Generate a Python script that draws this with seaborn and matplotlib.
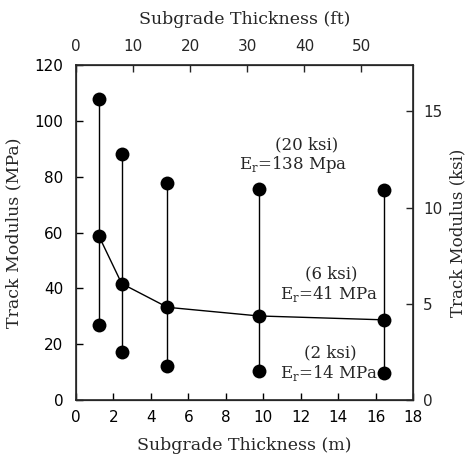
import numpy as np
import pandas as pd
import matplotlib
matplotlib.use("Agg")
import matplotlib.pyplot as plt
import seaborn as sns

# subgrade thickness (m) and track modulus (MPa) for three subgrade moduli
thickness = [1.22, 2.44, 4.88, 9.75, 16.46]
mod_138 = [108.0, 88.0, 77.7, 75.6, 75.3]
mod_41 = [58.8, 41.7, 33.2, 30.1, 28.7]
mod_14 = [26.9, 17.1, 12.3, 10.4, 9.8]

df = pd.DataFrame({
    "thickness": thickness * 3,
    "modulus": mod_138 + mod_41 + mod_14,
    "Er": ["138"] * 5 + ["41"] * 5 + ["14"] * 5,
})

sns.set_style("ticks")
plt.rcParams["font.family"] = ["DejaVu Sans"]
serif = "DejaVu Serif"

fig, ax = plt.subplots(figsize=(4.69, 4.55), dpi=100)
fig.subplots_adjust(left=0.162, right=0.881, top=0.857, bottom=0.121)

ax.vlines(thickness, mod_14, mod_138, color="black", lw=1.0, zorder=2)
sns.lineplot(x=thickness, y=mod_41, ax=ax, color="black", lw=1.0, zorder=2)
sns.scatterplot(data=df, x="thickness", y="modulus", ax=ax, color="black",
                s=100, edgecolor="black", linewidth=0, zorder=3, legend=False)

ax.set_xlim(0, 18)
ax.set_ylim(0, 120)
ax.set_xticks(np.arange(0, 19, 2))
ax.set_yticks(np.arange(0, 121, 20))
ax.tick_params(direction="in", length=5, width=1, labelsize=11, colors="black")
ax.tick_params(axis="x", pad=7)
ax.tick_params(axis="y", pad=9)
ax.set_xlabel("Subgrade Thickness (m)", family=serif, fontsize=12.5, labelpad=9)
ax.set_ylabel("Track Modulus (MPa)", family=serif, fontsize=12.5, labelpad=9)
for sp in ax.spines.values():
    sp.set_linewidth(1.2)

# secondary axes: feet on top, ksi on right
axt = ax.twiny()
axt.set_xlim(0, 18 / 0.3048)
axt.set_xticks(np.arange(0, 51, 10))
axt.tick_params(direction="in", length=5, width=1, labelsize=11, pad=8)
axt.set_xlabel("Subgrade Thickness (ft)", family=serif, fontsize=12.5, labelpad=11)

axr = ax.twinx()
axr.set_ylim(0, 120 / 6.895)
axr.set_yticks([0, 5, 10, 15])
axr.tick_params(direction="in", length=5, width=1, labelsize=11, pad=7)
axr.set_ylabel("Track Modulus (ksi)", family=serif, fontsize=12, labelpad=5)

txt = dict(family=serif, fontsize=12, ha="center", va="center")
ax.text(12.3, 91.5, "(20 ksi)", **txt)
ax.text(11.6, 84.5, r"E$_\mathregular{r}$=138 Mpa", **txt)
ax.text(13.6, 45.0, "(6 ksi)", **txt)
ax.text(13.5, 38.0, r"E$_\mathregular{r}$=41 MPa", **txt)
ax.text(13.6, 16.8, "(2 ksi)", **txt)
ax.text(13.5, 9.8, r"E$_\mathregular{r}$=14 MPa", **txt)

fig.savefig("out.png", dpi=100)
